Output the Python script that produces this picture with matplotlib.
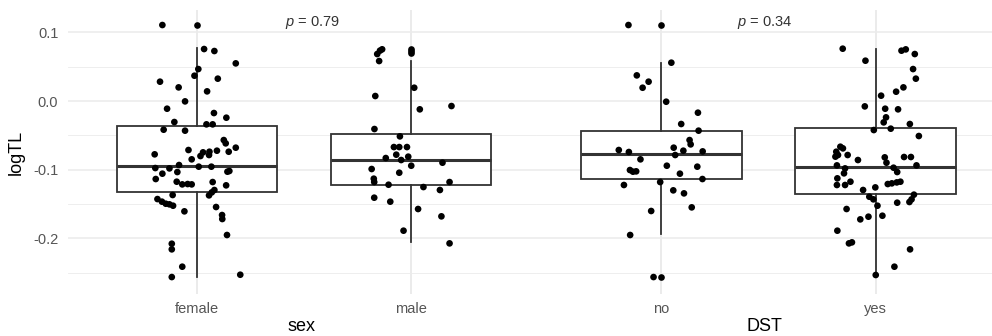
import matplotlib
matplotlib.use("Agg")
import matplotlib.pyplot as plt
from matplotlib.ticker import MultipleLocator

plt.rcParams['font.family'] = ['Liberation Sans', 'DejaVu Sans']
plt.rcParams['mathtext.fontset'] = 'custom'
plt.rcParams['mathtext.it'] = 'Liberation Sans:italic'
plt.rcParams['mathtext.rm'] = 'Liberation Sans'

# ---------------- data ----------------
facet_titles = ["sex", "DST"]
sex_levels = ["female", "male"]
dst_levels = ["no", "yes"]
p_values = ["0.79", "0.34"]

female_logTL = [0.1108, 0.0758, 0.0729, 0.0549, 0.0466, 0.0369, 0.0282, 0.0326, 0.0199, 0.0141,
                -0.0005, -0.0112, -0.0175, -0.0243, -0.0306, -0.0340, -0.0340, -0.0418, -0.0432, -0.0569,
                -0.0617, -0.0680, -0.0739, -0.0714, -0.0777, -0.0748, -0.0739, -0.0724, -0.0787, -0.0802,
                -0.0850, -0.0977, -0.0933, -0.0982, -0.0957, -0.0957, -0.1059, -0.1035, -0.1030, -0.1020,
                -0.1137, -0.1176, -0.1215, -0.1210, -0.1215, -0.1181, -0.1229, -0.1370, -0.1375, -0.1331,
                -0.1297, -0.1429, -0.1467, -0.1497, -0.1506, -0.1526, -0.1545, -0.1608, -0.1662, -0.1720,
                -0.1953, -0.2080, -0.2162, -0.2415, -0.2566, -0.2532]
female_jitter = [-0.162, 0.033, 0.081, 0.181, 0.006, -0.012, -0.173, 0.097, -0.086, 0.047,
                 -0.056, -0.140, 0.079, 0.137, -0.106, 0.044, 0.073, -0.156, -0.056, 0.125,
                 0.134, 0.181, 0.148, -0.040, -0.198, 0.028, 0.058, 0.093, 0.056, 0.016,
                 -0.025, -0.195, -0.084, -0.129, 0.008, 0.067, -0.162, -0.092, 0.142, 0.151,
                 -0.193, -0.095, -0.069, -0.044, -0.025, 0.073, 0.136, -0.114, 0.056, 0.069,
                 0.081, -0.185, -0.164, -0.146, -0.129, -0.112, 0.089, -0.059, 0.117, 0.118,
                 0.140, -0.118, -0.118, -0.069, -0.118, 0.202]

male_logTL = [0.0754, 0.0735, 0.0685, 0.0583, 0.0194, 0.0073, -0.0121, -0.0073, -0.0408, -0.0515,
              -0.0671, -0.0671, -0.0671, -0.0782, -0.0831, -0.0860, -0.0811, -0.0943, -0.0899, -0.0991,
              -0.1045, -0.1132, -0.1181, -0.1220, -0.1254, -0.1297, -0.1181, -0.1409, -0.1467, -0.1574,
              -0.1681, -0.1890, -0.2075]
male_jitter = [-0.135, -0.145, -0.158, -0.149, 0.015, -0.167, 0.041, 0.189, -0.171, -0.052,
               -0.080, -0.055, -0.019, -0.069, -0.118, -0.046, -0.013, 0.001, 0.147, -0.184,
               -0.055, -0.174, -0.172, -0.105, 0.058, 0.135, 0.180, -0.172, -0.097, 0.033,
               0.142, -0.035, 0.180]

no_logTL = [0.1108, 0.0559, 0.0374, 0.0282, 0.0194, -0.0010, -0.0170, -0.0335, -0.0432, -0.0569,
            -0.0632, -0.0680, -0.0724, -0.0734, -0.0714, -0.0743, -0.0787, -0.0850, -0.0943, -0.0957,
            -0.1006, -0.1030, -0.1025, -0.1059, -0.1137, -0.1181, -0.1224, -0.1302, -0.1346, -0.1550,
            -0.1603, -0.1953, -0.2566]
no_jitter = [-0.153, 0.047, -0.114, -0.059, -0.087, 0.023, 0.171, 0.093, 0.174, 0.132,
             0.137, 0.058, 0.103, 0.193, -0.198, -0.151, 0.065, -0.097, 0.026, 0.168,
             -0.146, -0.132, -0.117, 0.087, 0.192, -0.005, -0.174, 0.056, 0.106, 0.142,
             -0.047, -0.145, -0.036]

yes_logTL = [0.0763, 0.0588, 0.0734, 0.0753, 0.0685, 0.0466, 0.0326, 0.0199, 0.0136, 0.0078,
             -0.0078, -0.0112, -0.0121, -0.0238, -0.0311, -0.0335, -0.0403, -0.0423, -0.0510, -0.0666,
             -0.0690, -0.0739, -0.0787, -0.0787, -0.0811, -0.0860, -0.0821, -0.0816, -0.0816, -0.0938,
             -0.0899, -0.0938, -0.0982, -0.0972, -0.1054, -0.1035, -0.1127, -0.1224, -0.1224, -0.1176,
             -0.1210, -0.1200, -0.1186, -0.1176, -0.1297, -0.1259, -0.1395, -0.1433, -0.1526, -0.1365,
             -0.1433, -0.1472, -0.1482, -0.1574, -0.1686, -0.1725, -0.1672, -0.1890, -0.2075, -0.2060,
             -0.2162, -0.2415, -0.2536]
yes_jitter = [-0.154, -0.048, 0.120, 0.140, 0.182, 0.174, 0.187, 0.129, 0.095, 0.025,
              -0.051, 0.044, 0.104, 0.048, 0.037, 0.159, 0.070, -0.009, 0.201, -0.165,
              -0.153, -0.184, -0.176, -0.131, -0.188, -0.083, 0.042, 0.132, 0.164, -0.181,
              0.050, 0.190, -0.143, 0.083, -0.148, 0.100, -0.179, -0.181, -0.143, -0.118,
              0.056, 0.075, 0.098, 0.115, -0.059, -0.002, -0.030, -0.011, 0.008, 0.178,
              0.167, 0.157, 0.100, -0.136, -0.034, -0.072, 0.031, -0.179, -0.125, -0.111,
              0.160, 0.087, 0.000]

# box statistics: [lower whisker, Q1, median, Q3, upper whisker]
female_box = [-0.2566, -0.1320, -0.0943, -0.0369, 0.0770]
male_box = [-0.2060, -0.1229, -0.0865, -0.0486, 0.0583]
no_box = [-0.1944, -0.1132, -0.0773, -0.0432, 0.0559]
yes_box = [-0.2536, -0.1361, -0.0957, -0.0398, 0.0763]
female_outliers = [0.1108]
male_outliers = [0.0765, 0.0735, 0.0695]
no_outliers = [0.1108, -0.2566]
yes_outliers = []

y_ticks = [-0.2, -0.1, 0.0, 0.1]
y_tick_labels = ["-0.2", "-0.1", "0.0", "0.1"]

# ---------------- figure ----------------
W, H = 992, 336
fig = plt.figure(figsize=(W / 100, H / 100), dpi=100)
fig.patch.set_facecolor("white")

top_px, bot_px = 10, 294
panels = [
    dict(left=68, right=536, xlim=(0.397, 2.584), levels=sex_levels,
         data=[(female_logTL, female_jitter, female_box, female_outliers),
               (male_logTL, male_jitter, male_box, male_outliers)],
         title=facet_titles[0], p=p_values[0], px=1.54, yaxis=True),
    dict(left=536, right=992, xlim=(0.416, 2.542), levels=dst_levels,
         data=[(no_logTL, no_jitter, no_box, no_outliers),
               (yes_logTL, yes_jitter, yes_box, yes_outliers)],
         title=facet_titles[1], p=p_values[1], px=1.48, yaxis=False),
]

grid_col = "#EBEBEB"
line_col = "#333333"

for P in panels:
    ax = fig.add_axes([P["left"] / W, 1 - bot_px / H, (P["right"] - P["left"]) / W, (bot_px - top_px) / H])
    ax.set_xlim(*P["xlim"])
    ax.set_ylim(-0.2813, 0.1327)
    for s in ax.spines.values():
        s.set_visible(False)
    ax.yaxis.set_major_locator(MultipleLocator(0.1))
    ax.yaxis.set_minor_locator(MultipleLocator(0.05))
    ax.set_yticks(y_ticks)
    ax.grid(True, which="major", color=grid_col, lw=1.1, zorder=0)
    ax.grid(True, which="minor", axis="y", color=grid_col, lw=0.6, zorder=0)
    ax.set_axisbelow(True)
    ax.set_xticks([1, 2])
    ax.set_xticklabels(P["levels"], fontsize=10.5, color="#555555")
    ax.tick_params(axis="both", which="both", length=0)
    ax.tick_params(axis="x", pad=6)
    if P["yaxis"]:
        ax.set_yticklabels(y_tick_labels, fontsize=10.5, color="#555555")
        ax.tick_params(axis="y", pad=7)
        ax.set_ylabel("logTL", fontsize=13, color="black", labelpad=6)
    else:
        ax.set_yticklabels([])
    ax.set_xlabel(P["title"], fontsize=13, color="black", labelpad=1)

    stats = []
    for i, (vals, jit, box, outl) in enumerate(P["data"]):
        stats.append(dict(whislo=box[0], q1=box[1], med=box[2], q3=box[3], whishi=box[4],
                          fliers=outl, label=P["levels"][i]))
    ax.bxp(stats, positions=[1, 2], widths=0.75, showcaps=False, patch_artist=True,
           boxprops=dict(facecolor="white", edgecolor=line_col, lw=1.3),
           whiskerprops=dict(color=line_col, lw=1.3),
           medianprops=dict(color=line_col, lw=2.2),
           flierprops=dict(marker="o", markerfacecolor="black", markeredgecolor="none",
                           markeredgewidth=0, markersize=4.8, linestyle="none"),
           zorder=2)
    for i, (vals, jit, box, outl) in enumerate(P["data"]):
        xs = [i + 1 + j for j in jit]
        ax.scatter(xs, vals, s=23, color="black", edgecolors="none", zorder=3)

    ax.text(P["px"], 0.1151, "$p$ = " + P["p"], ha="center", va="center",
            fontsize=10.5, color="#333333", zorder=4)

fig.savefig("out.png", dpi=100, facecolor="white")
